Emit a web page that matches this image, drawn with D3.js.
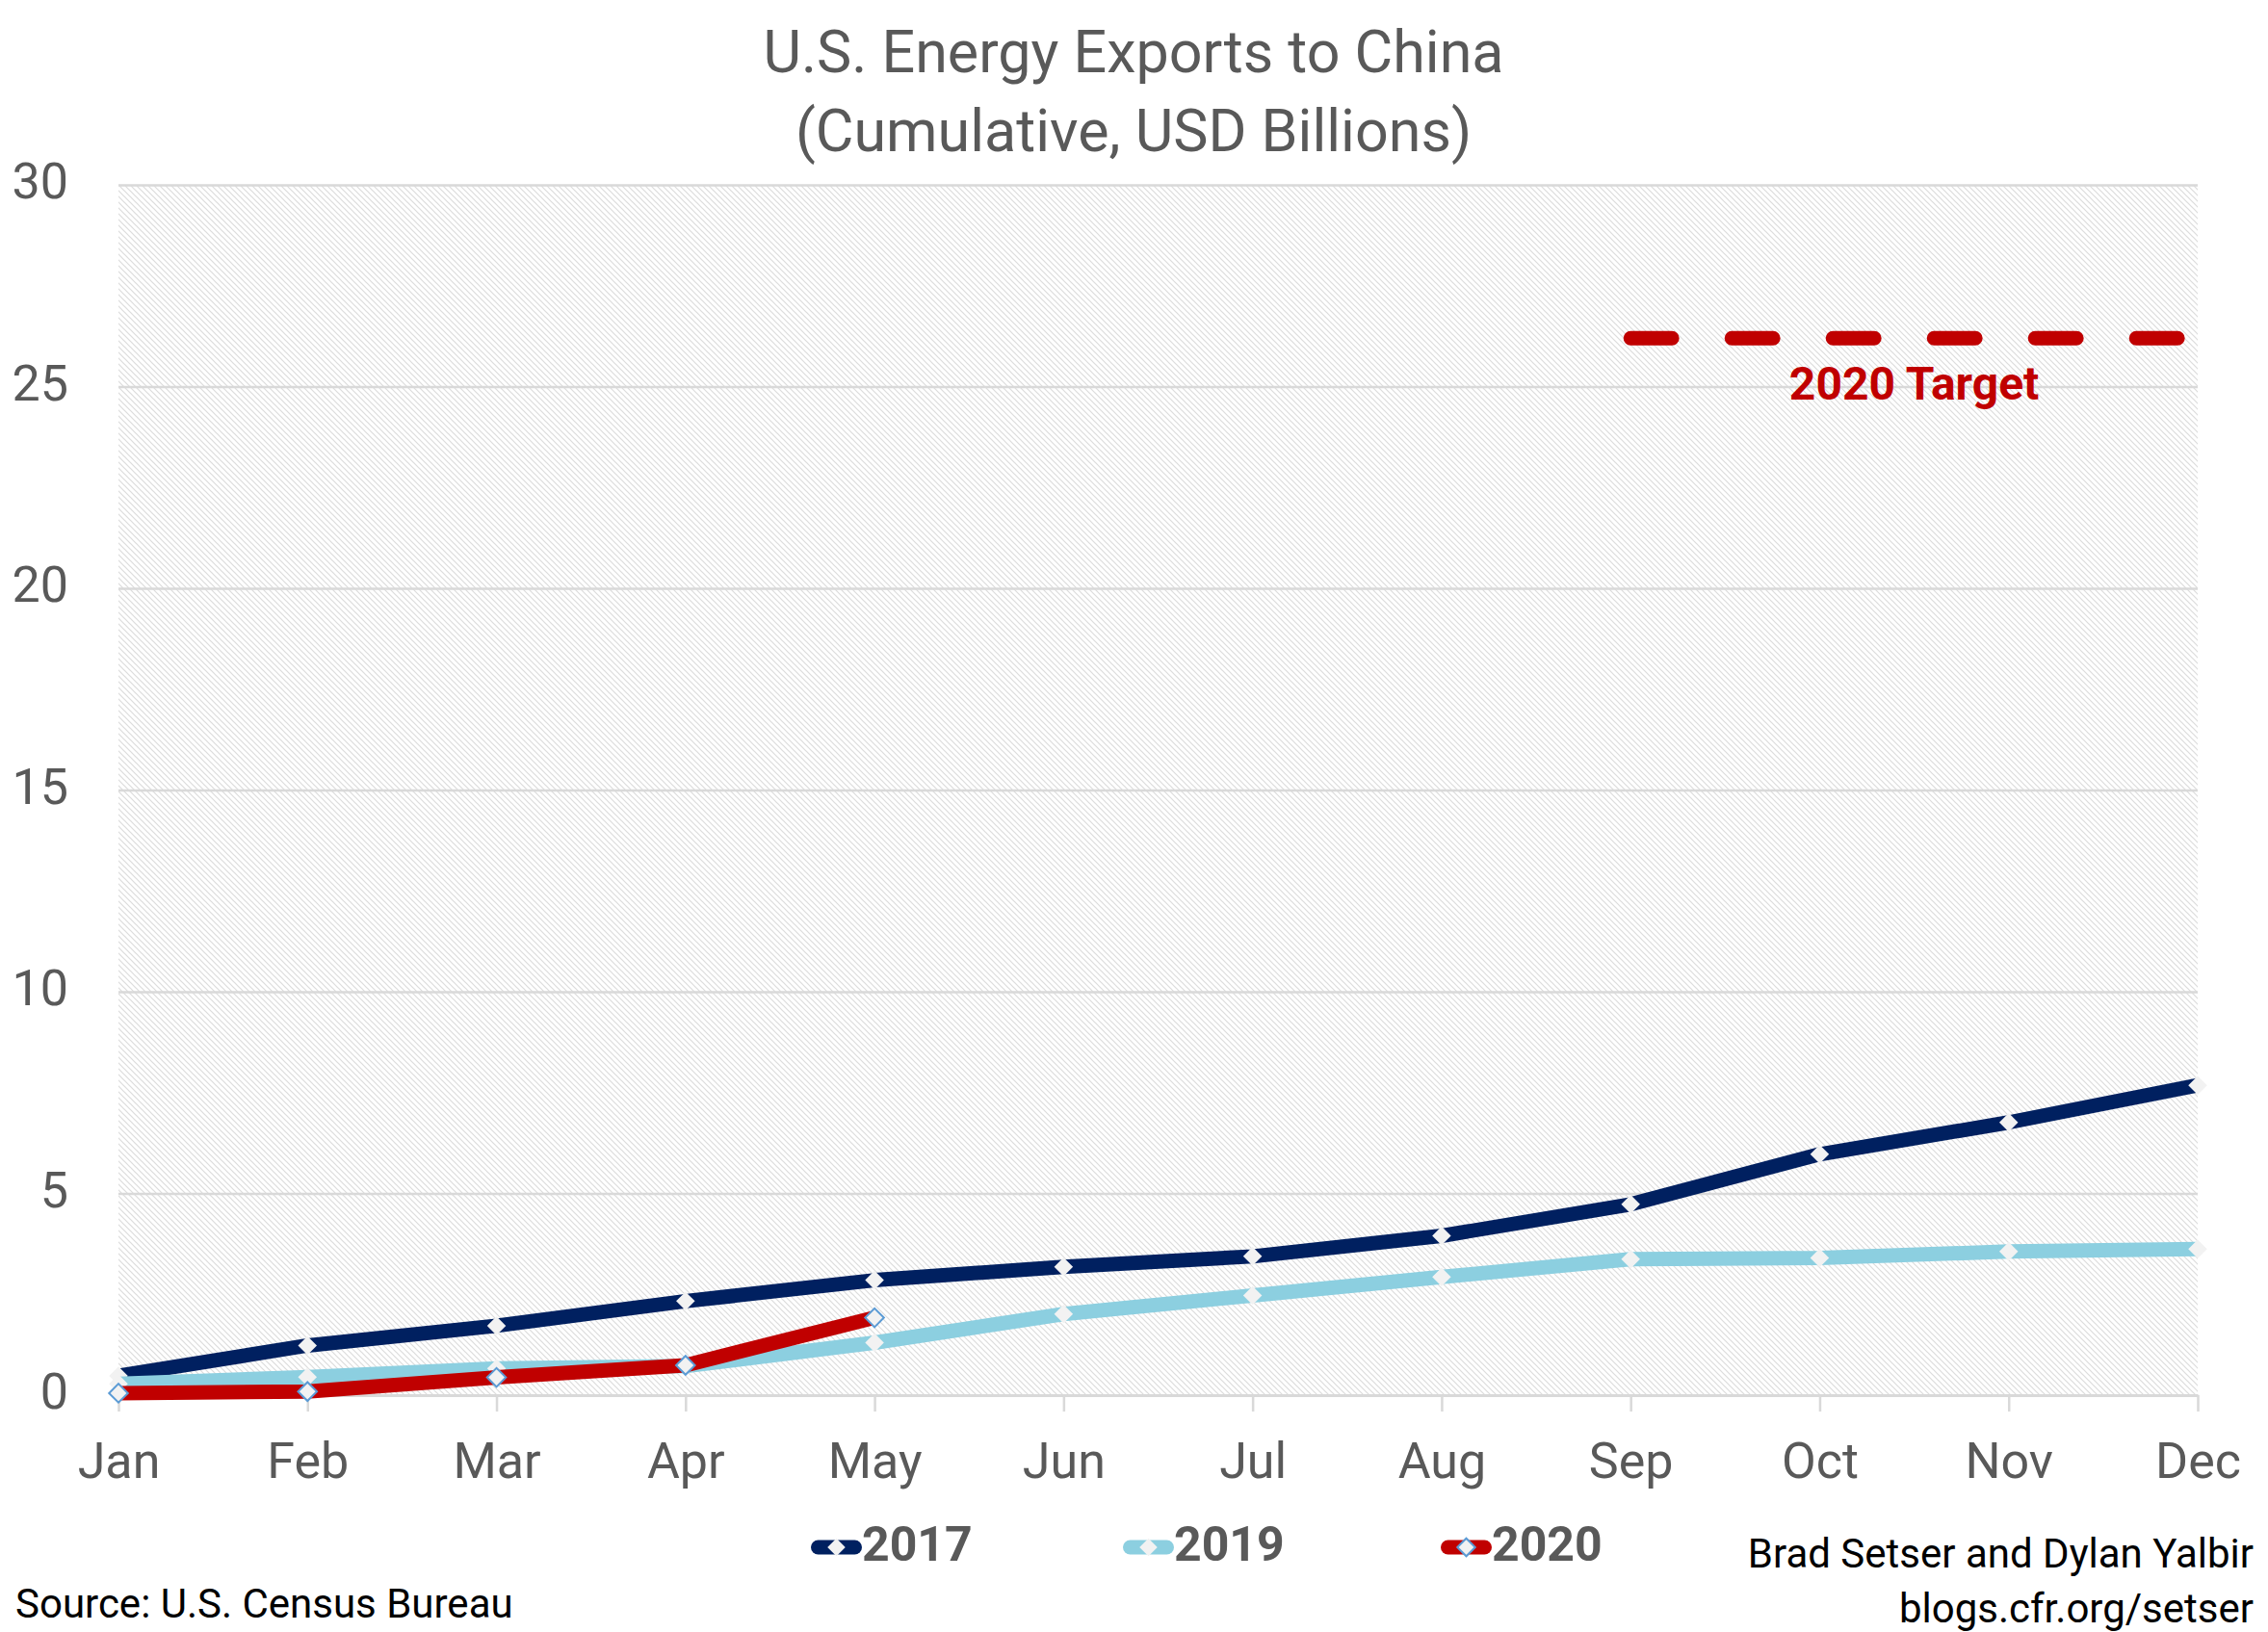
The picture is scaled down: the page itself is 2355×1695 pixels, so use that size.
<!DOCTYPE html>
<html>
<head>
<meta charset="utf-8">
<script src="https://cdn.jsdelivr.net/npm/d3@7"></script>
<style>
  body { margin: 0; background: #fff; }
  text { font-family: Roboto, "Noto Sans", sans-serif; }
</style>
</head>
<body>
<div id="chart"></div>
<script>
// Data
var months = ["Jan", "Feb", "Mar", "Apr", "May", "Jun", "Jul", "Aug", "Sep", "Oct", "Nov", "Dec"];
var yTicks = [0, 5, 10, 15, 20, 25, 30];
var exports2017 = [0.48, 1.23, 1.72, 2.33, 2.85, 3.18, 3.44, 3.95, 4.73, 5.97, 6.76, 7.68];
var exports2019 = [0.28, 0.45, 0.66, 0.72, 1.30, 2.01, 2.47, 2.93, 3.37, 3.40, 3.56, 3.62];
var exports2020 = [0.05, 0.09, 0.44, 0.74, 1.92];
var targetMonths = ["Sep", "Dec"];
var targetValues = [26.2, 26.2];

var series = [
  { name: "2017", values: exports2017, color: "#002060", markerStroke: "none" },
  { name: "2019", values: exports2019, color: "#8ccfe0", markerStroke: "none" },
  { name: "2020", values: exports2020, color: "#c00000", markerStroke: "#5b9bd5" }
];

// Chart parameters
var svgWidth = 2355;
var svgHeight = 1695;
var margin = { top: 192, right: 73, bottom: 246, left: 123 };
var width = svgWidth - margin.left - margin.right;
var height = svgHeight - margin.top - margin.bottom;

var svg = d3.select("#chart")
  .append("svg")
  .attr("width", svgWidth)
  .attr("height", svgHeight);

// hatched plot background
var defs = svg.append("defs");
var pattern = defs.append("pattern")
  .attr("id", "hatch")
  .attr("patternUnits", "userSpaceOnUse")
  .attr("width", 6)
  .attr("height", 6);
pattern.append("rect").attr("width", 6).attr("height", 6).attr("fill", "#ffffff");
pattern.append("path")
  .attr("d", "M-1,-1 L7,7 M-4,2 L2,8 M4,-2 L8,2")
  .attr("stroke", "#dcdcdc")
  .attr("stroke-width", 1.2);

var chartGroup = svg.append("g")
  .attr("transform", `translate(${margin.left}, ${margin.top})`);

chartGroup.append("rect")
  .attr("width", width)
  .attr("height", height)
  .attr("fill", "url(#hatch)");

// Scales
var xScale = d3.scalePoint()
  .domain(months)
  .range([0, width]);

var yScale = d3.scaleLinear()
  .domain([0, 30])
  .range([height, 0]);

// Axes
var leftAxis = d3.axisLeft(yScale)
  .tickValues(yTicks)
  .tickSize(-width)
  .tickPadding(52);

var yAxis = chartGroup.append("g").call(leftAxis);
yAxis.select(".domain").remove();
yAxis.selectAll(".tick line").attr("stroke", "#d9d9d9").attr("stroke-width", 2.5);
yAxis.selectAll(".tick text")
  .attr("dy", "0.26em")
  .attr("fill", "#595959")
  .style("font-size", "52px");

var bottomAxis = d3.axisBottom(xScale)
  .tickSize(17)
  .tickSizeOuter(0)
  .tickPadding(32);

var xAxis = chartGroup.append("g")
  .attr("transform", `translate(0, ${height})`)
  .call(bottomAxis);
xAxis.select(".domain").attr("stroke", "#d9d9d9").attr("stroke-width", 3);
xAxis.selectAll(".tick line").attr("stroke", "#d9d9d9").attr("stroke-width", 2.5);
xAxis.selectAll(".tick text")
  .attr("fill", "#595959")
  .style("font-size", "52px");

// Target line
var targetLine = d3.line()
  .x(function(d, i) { return xScale(targetMonths[i]); })
  .y(function(d) { return yScale(d); });

chartGroup.append("path")
  .datum(targetValues)
  .attr("d", targetLine)
  .attr("fill", "none")
  .attr("stroke", "#c00000")
  .attr("stroke-width", 15)
  .attr("stroke-linecap", "round")
  .attr("stroke-dasharray", "43 62");

chartGroup.append("text")
  .attr("x", (xScale("Oct") + xScale("Nov")) / 2)
  .attr("y", yScale(targetValues[0]) + 64)
  .attr("text-anchor", "middle")
  .attr("fill", "#c00000")
  .style("font-size", "48px")
  .style("font-weight", "bold")
  .text("2020 Target");

// Lines + markers
var diamond = d3.symbol().type(d3.symbolSquare).size(190);

var line = d3.line()
  .x(function(d, i) { return xScale(months[i]); })
  .y(function(d) { return yScale(d); });

series.forEach(function(s) {
  chartGroup.append("path")
    .datum(s.values)
    .attr("d", line)
    .attr("fill", "none")
    .attr("stroke", s.color)
    .attr("stroke-width", 15)
    .attr("stroke-linejoin", "round");

  chartGroup.selectAll(".m" + s.name)
    .data(s.values)
    .enter()
    .append("path")
    .attr("class", "m" + s.name)
    .attr("d", diamond)
    .attr("transform", function(d, i) {
      return `translate(${xScale(months[i])}, ${yScale(d)}) rotate(45)`;
    })
    .attr("fill", "#f2f2f2")
    .attr("stroke", s.markerStroke)
    .attr("stroke-width", 2);
});

// Legend
var legendX = [842, 1166, 1496];
var legend = svg.selectAll(".legend")
  .data(series)
  .enter()
  .append("g")
  .attr("class", "legend")
  .attr("transform", function(d, i) { return `translate(${legendX[i]}, 1607)`; });

legend.append("line")
  .attr("x1", 7.5)
  .attr("x2", 45.5)
  .attr("stroke", function(d) { return d.color; })
  .attr("stroke-width", 15)
  .attr("stroke-linecap", "round");

legend.append("path")
  .attr("d", d3.symbol().type(d3.symbolSquare).size(170))
  .attr("transform", "translate(26.5, 0) rotate(45)")
  .attr("fill", "#f2f2f2")
  .attr("stroke", function(d) { return d.markerStroke; })
  .attr("stroke-width", 2);

legend.append("text")
  .attr("x", 53)
  .attr("y", 14)
  .attr("fill", "#595959")
  .style("font-size", "50px")
  .style("font-weight", "bold")
  .text(function(d) { return d.name; });

// Titles
svg.append("text")
  .attr("x", 1177)
  .attr("y", 75)
  .attr("text-anchor", "middle")
  .attr("fill", "#595959")
  .style("font-size", "61px")
  .text("U.S. Energy Exports to China");

svg.append("text")
  .attr("x", 1177)
  .attr("y", 157)
  .attr("text-anchor", "middle")
  .attr("fill", "#595959")
  .style("font-size", "61px")
  .text("(Cumulative, USD Billions)");

// Notes
svg.append("text")
  .attr("x", 16)
  .attr("y", 1680)
  .attr("fill", "#000")
  .style("font-size", "42px")
  .text("Source: U.S. Census Bureau");

svg.append("text")
  .attr("x", 2340)
  .attr("y", 1628)
  .attr("text-anchor", "end")
  .attr("fill", "#000")
  .style("font-size", "42px")
  .text("Brad Setser and Dylan Yalbir");

svg.append("text")
  .attr("x", 2340)
  .attr("y", 1685)
  .attr("text-anchor", "end")
  .attr("fill", "#000")
  .style("font-size", "42px")
  .text("blogs.cfr.org/setser");
</script>
</body>
</html>
